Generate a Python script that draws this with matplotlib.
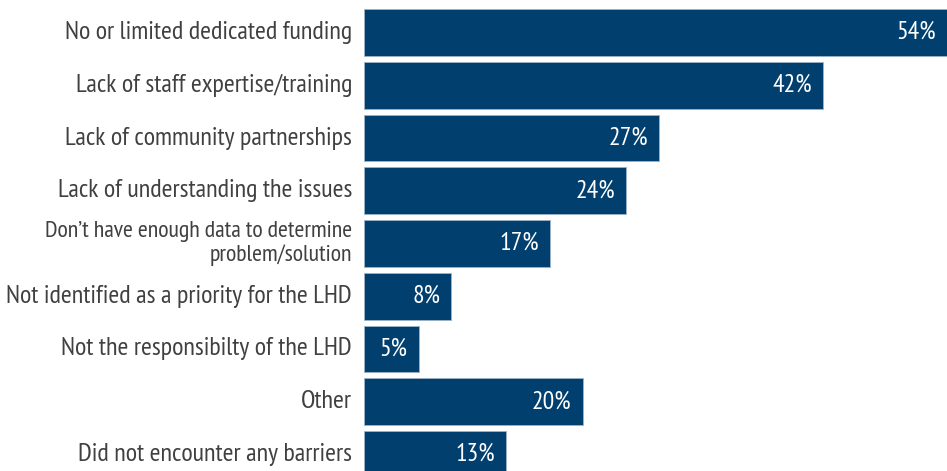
import matplotlib
matplotlib.use("Agg")
import matplotlib.pyplot as plt

categories = [
    "No or limited dedicated funding",
    "Lack of staff expertise/training",
    "Lack of community partnerships",
    "Lack of understanding the issues",
    "Don\u2019t have enough data to determine\nproblem/solution",
    "Not identified as a priority for the LHD",
    "Not the responsibilty of the LHD",
    "Other",
    "Did not encounter any barriers",
]
values = [54, 42, 27, 24, 17, 8, 5, 20, 13]
value_labels = ["54%", "42%", "27%", "24%", "17%", "8%", "5%", "20%", "13%"]

fam = ["PT Sans Narrow", "DejaVu Sans"]

W, H = 947, 471
fig = plt.figure(figsize=(W / 100, H / 100), dpi=100)
left_px = 364
ax = fig.add_axes([left_px / W, 0, (W - left_px) / W, 1])

bar_color = "#003f6e"
ypos = list(range(len(categories)))
ax.barh(ypos, values, height=0.89, color=bar_color, edgecolor="#9fb3c6", linewidth=0.6)

px_per_unit = 52.75
top = -32.5 / px_per_unit
bottom = (H - 32.5) / px_per_unit
ax.set_ylim(bottom, top)
ax.set_xlim(0, (W - left_px) / 10.93)
ax.axis("off")

for y, v, lab in zip(ypos, values, value_labels):
    if v == 54:
        xt = (936 - left_px) / 10.93
        ax.text(xt, y, lab, ha="right", va="center", color="white", fontsize=18.5, family=fam)
    else:
        ax.annotate(lab, (v, y), xytext=(-11, 0), textcoords="offset pixels",
                    ha="right", va="center", color="white", fontsize=18.5, family=fam)

for y, cat in zip(ypos, categories):
    multi = "\n" in cat
    fs = 17.2 if multi else 18.8
    ax.annotate(cat, (0, y), xytext=(-12, 0), textcoords="offset pixels", ha="right", va="center",
                color="#404040", fontsize=fs, family=fam, annotation_clip=False,
                multialignment="right", linespacing=1.1 if multi else 1.0)

fig.savefig("out.png", dpi=100)
